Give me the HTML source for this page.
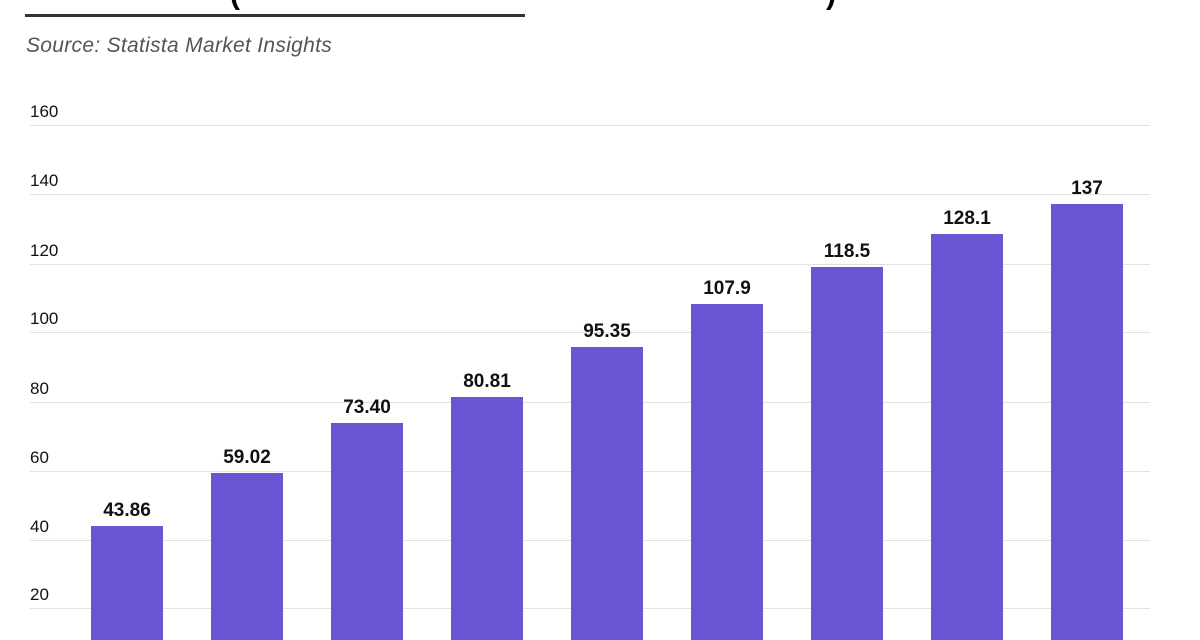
<!DOCTYPE html>
<html><head><style>
body{margin:0;width:1200px;height:640px;background:#fff;overflow:hidden;position:relative;font-family:"Liberation Sans",sans-serif}
.a{position:absolute}
.g{position:absolute;left:30px;width:1120px;height:1px;background:#e2e2e2}
.t{position:absolute;left:30px;font-size:17px;color:#111}
.b{position:absolute;width:72px;background:#6a55d2;bottom:0}
.v{position:absolute;width:120px;text-align:center;font-size:19px;font-weight:bold;color:#111}
</style></head><body>
<div class="a" style="left:25px;top:14px;width:500px;height:3px;background:#333"></div>
<div class="a" style="left:230px;top:-22px;font-size:30px;font-weight:bold">(</div>
<div class="a" style="left:826px;top:-22px;font-size:30px;font-weight:bold">)</div>
<div class="a" style="left:26px;top:34px;font-size:21px;font-style:italic;color:#555;letter-spacing:0.3px">Source: Statista Market Insights</div>
<div class="g" style="top:125px"></div><div class="t" style="top:102px">160</div>
<div class="g" style="top:194px"></div><div class="t" style="top:171px">140</div>
<div class="g" style="top:264px"></div><div class="t" style="top:241px">120</div>
<div class="g" style="top:332px"></div><div class="t" style="top:309px">100</div>
<div class="g" style="top:402px"></div><div class="t" style="top:379px">80</div>
<div class="g" style="top:471px"></div><div class="t" style="top:448px">60</div>
<div class="g" style="top:540px"></div><div class="t" style="top:517px">40</div>
<div class="g" style="top:608px"></div><div class="t" style="top:585px">20</div>
<div class="b" style="left:91px;top:526px"></div><div class="v" style="left:67px;top:500px">43.86</div>
<div class="b" style="left:211px;top:473px"></div><div class="v" style="left:187px;top:447px">59.02</div>
<div class="b" style="left:331px;top:423px"></div><div class="v" style="left:307px;top:397px">73.40</div>
<div class="b" style="left:451px;top:397px"></div><div class="v" style="left:427px;top:371px">80.81</div>
<div class="b" style="left:571px;top:347px"></div><div class="v" style="left:547px;top:321px">95.35</div>
<div class="b" style="left:691px;top:304px"></div><div class="v" style="left:667px;top:278px">107.9</div>
<div class="b" style="left:811px;top:267px"></div><div class="v" style="left:787px;top:241px">118.5</div>
<div class="b" style="left:931px;top:234px"></div><div class="v" style="left:907px;top:208px">128.1</div>
<div class="b" style="left:1051px;top:204px"></div><div class="v" style="left:1027px;top:178px">137</div>
</body></html>
